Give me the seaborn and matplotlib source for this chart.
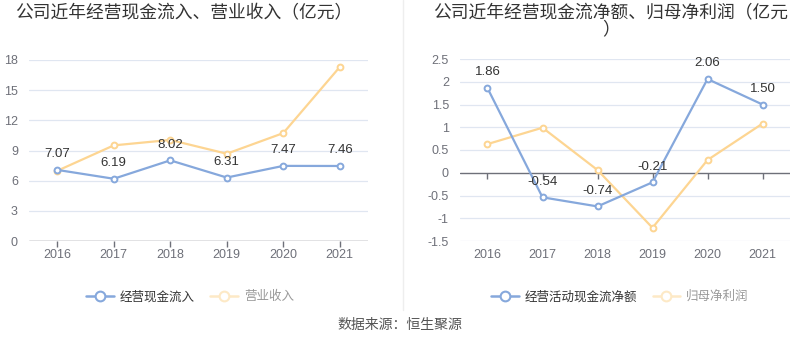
import numpy as np
import pandas as pd
import seaborn as sns
import matplotlib.pyplot as plt
from matplotlib.lines import Line2D

years = ["2016", "2017", "2018", "2019", "2020", "2021"]

# left panel
cash_inflow = [7.07, 6.19, 8.02, 6.31, 7.47, 7.46]
revenue = [6.98, 9.51, 10.05, 8.68, 10.73, 17.30]

# right panel
cash_net = [1.86, -0.54, -0.74, -0.21, 2.06, 1.50]
net_profit = [0.63, 0.99, 0.06, -1.21, 0.28, 1.08]

left_ticks = [0, 3, 6, 9, 12, 15, 18]
right_ticks = [-1.5, -1, -0.5, 0, 0.5, 1, 1.5, 2, 2.5]
right_ticklabels = ["-1.5", "-1", "-0.5", "0", "0.5", "1", "1.5", "2", "2.5"]

BLUE = "#86a8dc"
ORANGE = "#fdd592"
GRID = "#e0e6f1"
AXIS = "#6e7079"

sns.set_style("white")
plt.rcParams["font.family"] = ["Liberation Sans", "Noto Sans CJK SC", "DejaVu Sans"]

fig = plt.figure(figsize=(8, 3.58), dpi=100)
ax1 = fig.add_axes([29 / 800, 1 - 241 / 358, 339 / 800, 181 / 358])
ax2 = fig.add_axes([460 / 800, 1 - 241 / 358, 330 / 800, 182 / 358])


def draw_series(ax, values, color, labels):
    df = pd.DataFrame({"year": years, "value": values})
    sns.lineplot(data=df, x="year", y="value", ax=ax, color=color, lw=1.6,
                 marker="o", markersize=4.2, markerfacecolor="white",
                 markeredgecolor=color, markeredgewidth=1.4, zorder=3)
    if labels:
        for i, v in enumerate(values):
            ax.annotate(f"{v:.2f}", (i, v), xytext=(0, 7), textcoords="offset points",
                        ha="center", va="bottom", fontsize=9.5, color="#333333", zorder=4)


def style_axes(ax, ticks, ticklabels, lo, hi, zero_frac):
    ax.set_ylim(lo, hi)
    ax.set_xlim(-0.5, 5.5)
    ax.set_yticks(ticks)
    ax.set_yticklabels(ticklabels)
    ax.set_xlabel("")
    ax.set_ylabel("")
    for s in ax.spines.values():
        s.set_visible(False)
    for t in ticks:
        if t != 0:
            ax.axhline(t, color=GRID, lw=0.9, zorder=0)
    ax.axhline(0, color=AXIS, lw=1.0, zorder=1)
    ax.tick_params(axis="y", length=0, labelsize=9, colors=AXIS, pad=8)
    ax.tick_params(axis="x", length=0, labelsize=9, colors=AXIS, pad=6)
    sec = ax.secondary_xaxis(zero_frac)
    sec.set_xticks(range(len(years)))
    sec.tick_params(axis="x", direction="out", length=4, width=1, colors=AXIS, labelbottom=False, labeltop=False)
    sec.spines["bottom"].set_visible(False)
    sec.spines["top"].set_visible(False)


draw_series(ax1, revenue, ORANGE, False)
draw_series(ax1, cash_inflow, BLUE, True)
style_axes(ax1, left_ticks, [str(t) for t in left_ticks], 0, 18, 0.0)

draw_series(ax2, net_profit, ORANGE, False)
draw_series(ax2, cash_net, BLUE, True)
style_axes(ax2, right_ticks, right_ticklabels, -1.5, 2.5, 1.5 / 4)

fig.text(184 / 800, 1 - 14 / 358, "公司近年经营现金流入、营业收入（亿元）",
         ha="center", va="center", fontsize=12.8, color="#333333")
fig.text(611 / 800, 1 - 22 / 358, "公司近年经营现金流净额、归母净利润（亿元\n）",
         ha="center", va="center", fontsize=12.8, color="#333333", linespacing=0.95)

# separator
fig.add_artist(Line2D([403 / 800, 403 / 800], [1 - 310 / 358, 1], color="#eeeeee", lw=1))


def legend_handle(color):
    return Line2D([], [], color=color, lw=1.8, marker="o", markersize=7,
                  markerfacecolor="white", markeredgecolor=color, markeredgewidth=1.5)


for cx, names in [(190 / 800, ["经营现金流入", "营业收入"]),
                  (620 / 800, ["经营活动现金流净额", "归母净利润"])]:
    leg = fig.legend([legend_handle(BLUE), legend_handle("#fde9c6")], names,
                     loc="center", bbox_to_anchor=(cx, 1 - 297 / 358), ncol=2,
                     frameon=False, fontsize=9, handlelength=2.2, handletextpad=0.5,
                     columnspacing=1.2)
    leg.get_texts()[0].set_color("#333333")
    leg.get_texts()[1].set_color("#999999")

fig.text(0.5, 1 - 325 / 358, "数据来源：恒生聚源", ha="center", va="center",
         fontsize=10, color="#555555")

fig.savefig("out.png", dpi=100)
